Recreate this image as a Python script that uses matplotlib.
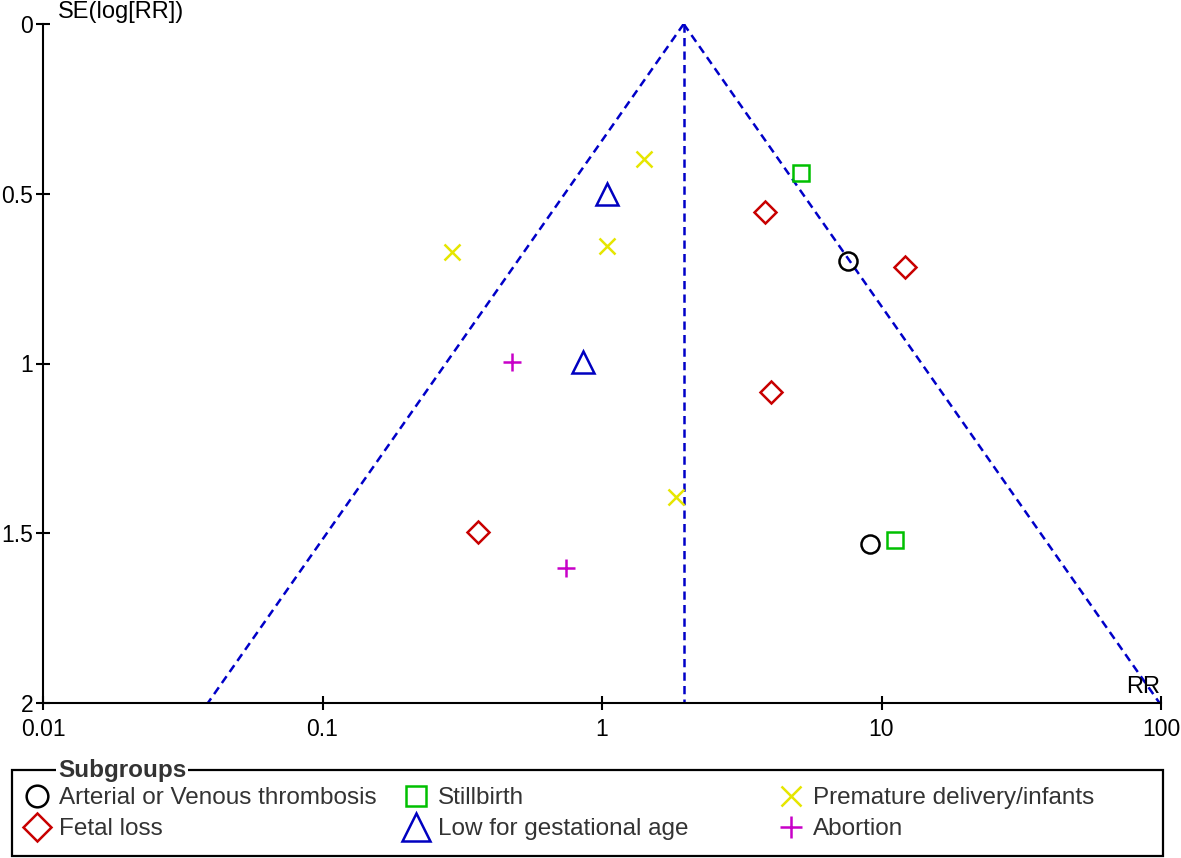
import numpy as np
import matplotlib
matplotlib.use('Agg')
import matplotlib.pyplot as plt
from matplotlib.patches import Rectangle

plt.rcParams['font.family'] = ['Liberation Sans', 'DejaVu Sans']

# pooled estimate (apex of the funnel)
pooled_rr = 1.96

# subgroups: RR and SE(log RR)
arterial_rr = [7.59, 9.10]
arterial_se = [0.698, 1.532]

fetal_rr = [3.83, 12.1, 4.02, 0.36]
fetal_se = [0.554, 0.716, 1.084, 1.496]

stillbirth_rr = [5.15, 11.2]
stillbirth_se = [0.439, 1.52]

lowga_rr = [1.04, 0.855]
lowga_se = [0.50, 0.995]

premature_rr = [1.41, 0.29, 1.04, 1.84]
premature_se = [0.398, 0.672, 0.654, 1.393]

abortion_rr = [0.477, 0.743]
abortion_se = [0.995, 1.602]

xticks = [0.01, 0.1, 1, 10, 100]
xtick_labels = ['0.01', '0.1', '1', '10', '100']
yticks = [0, 0.5, 1, 1.5, 2]
ytick_labels = ['0', '0.5', '1', '1.5', '2']

fig = plt.figure(figsize=(11.81, 8.58), dpi=100)
ax = fig.add_axes([43 / 1181, 1 - 703 / 858, 1118 / 1181, 679 / 858])

# funnel
se_line = np.array([0, 2.0])
dash_col = '#0000c8'
for sign in (-1, 1):
    ax.plot(np.exp(np.log(pooled_rr) + sign * 1.96 * se_line), se_line,
            color=dash_col, lw=1.8, dashes=(3.3, 2.1))
ax.plot([pooled_rr, pooled_rr], se_line, color=dash_col, lw=1.8, dashes=(3.3, 2.1))

mk = dict(ls='none', mfc='none', mew=1.8)
h_art, = ax.plot(arterial_rr, arterial_se, marker='o', ms=13, mec='black', **mk)
h_fet, = ax.plot(fetal_rr, fetal_se, marker='D', ms=11.5, mec='#c80000', **mk)
h_sti, = ax.plot(stillbirth_rr, stillbirth_se, marker='s', ms=12, mec='#00c000', **mk)
h_low, = ax.plot(lowga_rr, lowga_se, marker='^', ms=16.5, mec='#0000c0', **mk)
h_pre, = ax.plot(premature_rr, premature_se, marker='x', ms=12, mec='#e6e600', **mk)
h_abo, = ax.plot(abortion_rr, abortion_se, marker='+', ms=13, mec='#c800c8', **mk)

ax.set_xscale('log')
ax.set_xlim(0.01, 100)
ax.set_ylim(2, 0)
ax.set_xticks(xticks)
ax.set_xticklabels(xtick_labels)
ax.xaxis.set_minor_locator(matplotlib.ticker.NullLocator())
ax.set_yticks(yticks)
ax.set_yticklabels(ytick_labels)
ax.tick_params(direction='inout', length=10, width=1.5, labelsize=16.5, pad=2)
ax.tick_params(axis='x', pad=6)
for s in ('top', 'right'):
    ax.spines[s].set_visible(False)
for s in ('left', 'bottom'):
    ax.spines[s].set_linewidth(1.5)

fig.text(58 / 1181, 1 - 12 / 858, 'SE(log[RR])', fontsize=17, va='center', ha='left')
fig.text(1160 / 1181, 1 - 687 / 858, 'RR', fontsize=17, va='center', ha='right')

# legend box
fig.add_artist(Rectangle((12 / 1181, 1 - 856 / 858), 1151 / 1181, 86 / 858,
                         transform=fig.transFigure, fill=False, lw=1.6, ec='black'))
fig.text(58 / 1181, 1 - 770 / 858, 'Subgroups', fontsize=17.5, fontweight='bold',
         color='#333333', va='center', ha='left',
         bbox=dict(fc='white', ec='none', pad=1.5))

cols = [([h_art, h_fet], ['Arterial or Venous thrombosis', 'Fetal loss'], 25),
        ([h_sti, h_low], ['Stillbirth', 'Low for gestational age'], 404),
        ([h_pre, h_abo], ['Premature delivery/infants', 'Abortion'], 779)]
for handles, labels, x0 in cols:
    leg = fig.legend(handles, labels, loc='upper left',
                     bbox_to_anchor=(x0 / 1181, 1 - 787 / 858),
                     frameon=False, fontsize=17.5, borderpad=0, borderaxespad=0,
                     handlelength=1.0, handletextpad=0.4, labelspacing=0.38,
                     markerscale=1.2)
    for t in leg.get_texts():
        t.set_color('#333333')

fig.savefig('out.png', dpi=100)
